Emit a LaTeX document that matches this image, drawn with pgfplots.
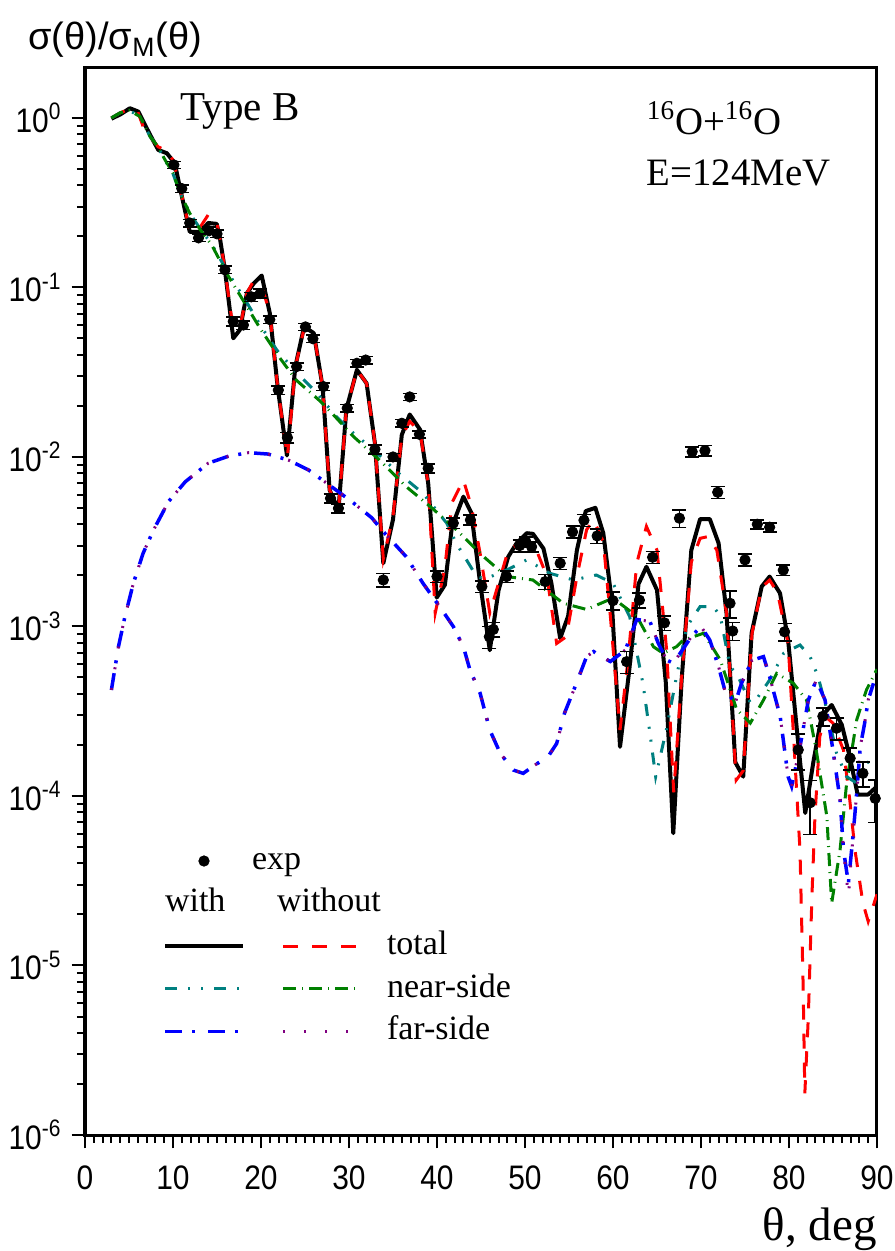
\documentclass[border=0pt]{standalone}
\usepackage{fontspec}
\setmainfont{Liberation Serif}
\newfontfamily\arialfont{Liberation Sans}
\newfontfamily\narrowfont[FakeStretch=0.88]{Liberation Sans}
\usepackage{pgfplots}
\usepackage{pgfplotstable}
\pgfplotsset{compat=1.18}
\definecolor{cteal}{RGB}{0,128,128}
\definecolor{cgreen}{RGB}{0,128,0}
\definecolor{cpurple}{RGB}{128,0,128}

\pgfplotstableread{
t s e
10.1 0.528 0.05
11.0 0.383 0.05
11.9 0.240 0.05
12.9 0.196 0.05
14.1 0.216 0.05
15.0 0.207 0.05
15.9 0.127 0.05
16.85 0.063 0.06
18.0 0.060 0.06
18.9 0.088 0.06
19.9 0.092 0.06
21.0 0.0646 0.05
21.97 0.0248 0.06
23.0 0.0130 0.07
24.05 0.0341 0.05
25.05 0.0585 0.05
25.9 0.0498 0.05
27.1 0.0260 0.05
27.9 0.0057 0.06
28.8 0.00498 0.06
29.8 0.0194 0.05
30.9 0.0357 0.05
31.9 0.0373 0.05
32.95 0.0111 0.06
33.9 0.00188 0.09
35.0 0.0100 0.05
36.0 0.0158 0.05
36.9 0.0226 0.05
38.0 0.0136 0.05
39.0 0.00857 0.06
40.0 0.00197 0.08
41.85 0.00407 0.07
43.8 0.00425 0.07
45.1 0.00172 0.08
45.95 0.00087 0.15
46.4 0.00096 0.10
47.9 0.00197 0.08
49.4 0.00300 0.08
50.1 0.00316 0.07
50.75 0.00295 0.07
52.3 0.00184 0.10
54.0 0.00236 0.08
55.4 0.00361 0.08
56.7 0.00423 0.08
58.2 0.00342 0.10
60.0 0.00142 0.12
61.55 0.00062 0.15
63.0 0.00143 0.10
64.5 0.00256 0.08
65.85 0.00105 0.10
67.55 0.00435 0.12
69.0 0.01074 0.07
70.45 0.01089 0.07
71.9 0.00619 0.08
73.3 0.00137 0.18
73.6 0.00094 0.12
75.0 0.00247 0.08
76.4 0.00401 0.06
77.8 0.00385 0.06
79.35 0.00215 0.07
79.5 0.00093 0.12
81.05 0.000187 0.24
82.4 0.0000912 0.35
83.85 0.000295 0.12
85.4 0.000251 0.15
86.95 0.000167 0.15
88.4 0.000136 0.17
89.8 0.0000968 0.28
}\expdata

\pgfplotstableread{
t s
3.0 0.989
4.0 1.047
5.1 1.140
6.06 1.089
7.4 0.794
8.33 0.647
9.3 0.619
10.2 0.541
10.8 0.385
11.9 0.213
13.1 0.213
14.0 0.240
14.97 0.237
15.3 0.200
15.9 0.127
16.85 0.0501
17.6 0.0562
18.4 0.0925
19.2 0.106
20.08 0.1175
21.0 0.0705
21.9 0.0257
22.95 0.0102
23.9 0.0341
24.9 0.0587
26.0 0.0537
27.0 0.0260
27.8 0.00638
28.8 0.00486
29.7 0.0191
30.9 0.0326
32.0 0.0272
32.95 0.0120
33.9 0.00236
35.0 0.00427
36.0 0.0135
36.9 0.0178
38.07 0.0145
39.0 0.00700
39.97 0.00148
40.9 0.00176
41.7 0.00389
43.0 0.00583
43.9 0.00468
44.9 0.00180
46.0 0.000724
47.0 0.00164
48.1 0.00258
49.05 0.00310
50.2 0.00355
50.9 0.00352
52.1 0.00288
53.0 0.00180
54.0 0.000851
54.9 0.00115
55.9 0.00282
56.9 0.00479
58.0 0.00501
58.9 0.00355
59.85 0.00143
60.8 0.000195
61.8 0.000525
62.9 0.00178
63.8 0.00225
65.0 0.00164
66.0 0.000468
66.85 0.0000603
67.8 0.000483
68.9 0.00282
69.9 0.00430
71.0 0.00430
72.0 0.00310
72.9 0.00120
73.9 0.000158
74.8 0.000130
75.75 0.000912
76.9 0.00172
77.8 0.00197
78.98 0.00157
79.9 0.000832
80.9 0.000245
81.85 0.0000794
82.8 0.000162
83.7 0.000295
84.85 0.000344
86.0 0.000263
86.9 0.000171
87.8 0.000102
89.0 0.000102
90.0 0.000114
}\withtotal

\pgfplotstableread{
t s
3.0 1.0
4.0 1.072
5.0 1.122
6.0 1.084
6.6 0.891
7.2 0.794
8.3 0.676
9.1 0.647
10.0 0.565
10.8 0.389
11.9 0.216
12.9 0.219
14.0 0.268
15.0 0.237
15.3 0.200
15.9 0.127
16.85 0.0562
17.6 0.0575
18.4 0.0925
19.1 0.108
20.1 0.101
21.0 0.0705
21.9 0.0257
23.0 0.0100
23.9 0.0339
24.9 0.0575
26.0 0.0537
27.0 0.0260
27.8 0.00638
28.8 0.00486
29.7 0.0191
30.9 0.0326
32.0 0.0272
32.95 0.0120
33.9 0.00251
35.0 0.00447
36.0 0.0132
36.9 0.0162
38.07 0.0141
39.0 0.00692
39.8 0.00120
40.9 0.00224
41.7 0.00537
43.0 0.00731
43.9 0.00513
44.9 0.00270
46.0 0.00120
47.0 0.00180
48.1 0.00282
49.4 0.00309
50.6 0.00295
51.3 0.00282
52.5 0.00197
53.6 0.000794
54.7 0.000871
55.9 0.00197
57.0 0.00372
57.8 0.00425
58.9 0.00316
59.7 0.00115
60.8 0.000245
61.7 0.000631
62.7 0.00236
63.8 0.00389
65.0 0.00282
66.1 0.000724
66.9 0.000105
67.8 0.000501
68.9 0.00240
69.9 0.00331
70.8 0.00339
71.8 0.00282
72.9 0.00120
74.0 0.000124
74.8 0.000141
75.8 0.000912
76.9 0.00170
77.8 0.00188
78.7 0.00158
79.9 0.000794
80.5 0.000234
81.25 0.0000479
81.6 0.00000794
81.8 0.00000176
82.2 0.00000501
82.6 0.0000251
82.95 0.0000759
83.5 0.000224
84.1 0.000295
85.0 0.000269
86.2 0.000186
86.9 0.0000955
87.5 0.0000479
88.4 0.0000234
89.0 0.0000182
90.0 0.0000263
}\withouttotal

\pgfplotstableread{
t s
3.0 1.0
4.0 1.072
5.0 1.109
6.25 1.019
7.4 0.776
8.3 0.676
9.1 0.562
10.0 0.468
10.8 0.363
11.9 0.275
13.1 0.221
14.4 0.180
16.1 0.126
18.4 0.0813
20.0 0.0589
21.8 0.0427
24.0 0.0316
26.3 0.0240
28.5 0.0174
30.5 0.0138
32.8 0.0110
35.5 0.00813
38.4 0.00611
41.1 0.00407
42.2 0.00309
43.5 0.00240
44.5 0.00197
45.5 0.00191
47.9 0.00215
50.2 0.00247
52.8 0.00206
55.5 0.00188
58.1 0.00201
60.0 0.00180
61.9 0.00114
63.4 0.000462
64.2 0.000234
64.85 0.000130
66.1 0.000251
67.2 0.000501
68.4 0.00100
69.9 0.00131
71.4 0.00131
72.2 0.00115
73.3 0.000579
74.05 0.000528
75.6 0.000355
76.3 0.000372
77.8 0.000483
79.4 0.000695
81.25 0.000778
82.4 0.000664
83.3 0.000506
84.3 0.000324
85.4 0.000179
86.55 0.000130
87.7 0.000119
88.8 0.000156
90.0 0.000171
}\withnear

\pgfplotstableread{
t s
3.0 1.0
4.0 1.072
5.0 1.109
6.25 1.019
7.4 0.776
8.3 0.676
9.1 0.565
10.0 0.472
10.8 0.360
11.9 0.274
13.1 0.219
14.4 0.178
16.1 0.121
18.4 0.0771
20.0 0.0562
22.2 0.0380
24.0 0.0284
26.7 0.0214
28.2 0.0178
30.5 0.0132
33.5 0.00955
36.5 0.00668
39.4 0.00501
42.2 0.00372
45.3 0.00258
47.9 0.00197
50.9 0.00188
54.35 0.00137
57.0 0.00126
60.0 0.00147
62.7 0.00115
64.6 0.000759
65.7 0.000695
67.2 0.000759
68.0 0.000832
70.3 0.000912
72.2 0.000634
74.05 0.000324
75.6 0.000269
77.1 0.000368
78.6 0.000528
80.5 0.000462
82.0 0.000368
83.1 0.000186
84.3 0.0000759
84.85 0.0000233
85.8 0.0000479
86.55 0.000119
87.7 0.000282
88.8 0.000422
90.0 0.000560
}\withoutnear

\pgfplotstableread{
t s
3.0 0.000422
3.8 0.000759
4.55 0.00115
5.5 0.00180
6.6 0.00270
7.8 0.00372
9.5 0.00546
11.4 0.00714
14.0 0.00918
16.3 0.0101
18.6 0.0106
20.8 0.0104
23.1 0.00959
25.4 0.00838
28.0 0.00668
30.3 0.00546
32.6 0.00437
33.7 0.00372
36.5 0.00258
38.4 0.00180
40.3 0.00131
41.85 0.00100
43.0 0.000759
43.75 0.000553
44.9 0.000404
46.0 0.000245
47.2 0.000178
48.7 0.000142
49.8 0.000136
51.1 0.000152
52.6 0.000170
53.6 0.000204
54.5 0.000309
55.7 0.000442
57.0 0.000664
57.8 0.000711
58.7 0.000664
59.7 0.000621
61.4 0.000726
62.7 0.00110
64.2 0.00107
65.15 0.000794
66.1 0.000634
66.85 0.000607
68.0 0.000741
68.9 0.000871
70.0 0.00100
71.0 0.000832
72.0 0.000579
72.7 0.000422
73.9 0.000355
74.6 0.000462
75.8 0.000631
77.1 0.000664
77.8 0.000506
79.0 0.000295
79.9 0.000130
80.3 0.000114
81.25 0.000195
82.2 0.000368
83.1 0.000483
84.1 0.000368
85.0 0.000186
85.8 0.0000955
86.2 0.0000479
86.75 0.0000305
87.3 0.0000603
87.7 0.000105
88.1 0.000195
88.6 0.000269
89.0 0.000368
89.6 0.000462
}\withfar

\pgfplotstableread{
t s
3.0 0.000422
3.8 0.000759
4.55 0.00115
5.5 0.00180
6.6 0.00270
7.8 0.00372
9.5 0.00546
11.4 0.00714
14.0 0.00918
16.3 0.0101
18.6 0.0106
20.8 0.0104
23.1 0.00959
25.4 0.00838
28.0 0.00668
30.3 0.00546
32.6 0.00437
33.7 0.00372
36.5 0.00258
38.4 0.00180
40.3 0.00131
41.85 0.00100
43.0 0.000759
43.75 0.000553
44.9 0.000404
46.0 0.000245
47.2 0.000178
48.7 0.000142
49.8 0.000136
51.1 0.000152
52.6 0.000170
53.6 0.000204
54.5 0.000309
55.7 0.000442
57.0 0.000664
57.8 0.000711
58.7 0.000664
59.7 0.000621
61.4 0.000726
62.7 0.00110
64.2 0.00107
65.15 0.000794
66.1 0.000634
66.85 0.000607
68.0 0.000741
68.9 0.000871
70.0 0.00100
71.0 0.000832
72.0 0.000579
72.7 0.000422
73.9 0.000355
74.6 0.000462
75.8 0.000631
77.1 0.000664
77.8 0.000506
79.0 0.000295
79.9 0.000130
80.3 0.000114
81.25 0.000195
82.2 0.000368
83.1 0.000483
84.1 0.000368
85.0 0.000186
85.8 0.0000955
86.2 0.0000479
86.75 0.0000257
87.3 0.0000603
87.7 0.000105
88.1 0.000195
88.6 0.000269
89.0 0.000368
89.6 0.000462
}\withoutfar

\begin{document}
\begin{tikzpicture}
\begin{axis}[
  scale only axis,
  width=396pt, height=533.5pt,
  xmin=0, xmax=90,
  ymode=log, ymin=1e-6, ymax=1.97,
  clip mode=individual,
  axis line style={line width=1.5pt},
  tick align=outside,
  xtick pos=bottom, ytick pos=left,
  tick style={line width=1pt, black},
  major tick length=6.75pt, minor tick length=4pt,
  xtick={0,10,...,90},
  xticklabels={0,10,20,30,40,50,60,70,80,90},
  minor x tick num=9,
  ytick={1e-6,1e-5,1e-4,1e-3,1e-2,1e-1,1},
  yticklabels={10\textsuperscript{-6},10\textsuperscript{-5},10\textsuperscript{-4},10\textsuperscript{-3},10\textsuperscript{-2},10\textsuperscript{-1},10\textsuperscript{0}},
  minor ytick={2e-6,3e-6,4e-6,5e-6,6e-6,7e-6,8e-6,9e-6,
               2e-5,3e-5,4e-5,5e-5,6e-5,7e-5,8e-5,9e-5,
               2e-4,3e-4,4e-4,5e-4,6e-4,7e-4,8e-4,9e-4,
               2e-3,3e-3,4e-3,5e-3,6e-3,7e-3,8e-3,9e-3,
               2e-2,3e-2,4e-2,5e-2,6e-2,7e-2,8e-2,9e-2,
               0.2,0.3,0.4,0.5,0.6,0.7,0.8,0.9},
  ticklabel style={font=\narrowfont\fontsize{17}{19}\selectfont},
  xticklabel shift=5pt,
  yticklabel shift=1.5pt,
  legend columns=2,
  legend cell align=left,
  legend style={draw=none, fill=none, inner sep=0pt, outer sep=0pt,
    at={(axis description cs:0.0985,0.2715)}, anchor=north west,
    font=\fontsize{17}{20}\selectfont,
    row sep=5.6pt,
    nodes={inner sep=0pt, text height=12pt, text depth=3.7pt}},
]
% legend entries (row 1)
\addlegendimage{legend image code/.code={\path[draw=none,fill=none] (0pt,0pt) -- (43.5pt,0pt); \fill[black] (19.5pt,0pt) circle (2.6pt);}}
\addlegendentry{\makebox[12pt][l]{exp}}
\addlegendimage{legend image code/.code={\path[draw=none,fill=none] (0pt,0pt) -- (52pt,0pt);}}
\addlegendentry{\makebox[0pt]{}}
% row 2
\addlegendimage{legend image code/.code={\path[draw=none,fill=none] (0pt,0pt) -- (43.5pt,0pt); \node[draw=none, anchor=west, inner sep=0pt, text height=12pt, text depth=3.7pt] at (0pt,0pt) {with};}}
\addlegendentry{\makebox[12pt]{}}
\addlegendimage{legend image code/.code={\path[draw=none,fill=none] (0pt,0pt) -- (52pt,0pt); \node[draw=none, anchor=west, inner sep=0pt, text height=12pt, text depth=3.7pt] at (-3.5pt,0pt) {\makebox[0pt][l]{without}};}}
\addlegendentry{\makebox[0pt]{}}
% row 3
\addlegendimage{legend image code/.code={\draw[black, line width=2pt, solid] (0pt,0pt) -- (39pt,0pt); \path[draw=none,fill=none] (0pt,0pt) -- (43.5pt,0pt);}}
\addlegendentry{\makebox[12pt]{}}
\addlegendimage{legend image code/.code={\draw[red, line width=1.5pt, dash pattern=on 7.5pt off 7pt] (0pt,0pt) -- (39pt,0pt); \path[draw=none,fill=none] (0pt,0pt) -- (52pt,0pt);}}
\addlegendentry{total}
% row 4
\addlegendimage{legend image code/.code={\draw[cteal, line width=1.5pt, dash pattern=on 6pt off 5.5pt on 1pt off 5.5pt on 1pt off 5.5pt] (0pt,0pt) -- (39pt,0pt); \path[draw=none,fill=none] (0pt,0pt) -- (43.5pt,0pt);}}
\addlegendentry{\makebox[12pt]{}}
\addlegendimage{legend image code/.code={\draw[cgreen, line width=1.5pt, dash pattern=on 6.5pt off 3pt on 0.5pt off 3pt] (0pt,0pt) -- (39pt,0pt); \path[draw=none,fill=none] (0pt,0pt) -- (52pt,0pt);}}
\addlegendentry{near-side}
% row 5
\addlegendimage{legend image code/.code={\draw[blue, line width=1.75pt, dash pattern=on 8.5pt off 5pt on 1.5pt off 6.5pt] (0pt,0pt) -- (37pt,0pt); \path[draw=none,fill=none] (0pt,0pt) -- (43.5pt,0pt);}}
\addlegendentry{\makebox[12pt]{}}
\addlegendimage{legend image code/.code={\draw[cpurple, line width=1.5pt, dash pattern=on 1pt off 9.5pt] (0pt,0pt) -- (36pt,0pt); \path[draw=none,fill=none] (0pt,0pt) -- (52pt,0pt);}}
\addlegendentry{far-side}

% curves
\addplot[forget plot, black, line width=2pt, line join=round] table[x=t,y=s] {\withtotal};
\addplot[forget plot, red, line width=1.5pt, dash pattern=on 7.5pt off 7pt] table[x=t,y=s] {\withouttotal};
\addplot[forget plot, cteal, line width=1.5pt, dash pattern=on 6pt off 5.5pt on 1pt off 5.5pt on 1pt off 5.5pt] table[x=t,y=s] {\withnear};
\addplot[forget plot, cgreen, line width=1.5pt, dash pattern=on 6.5pt off 3pt on 0.5pt off 3pt] table[x=t,y=s] {\withoutnear};
\addplot[forget plot, blue, line width=1.75pt, dash pattern=on 8.5pt off 5pt on 1.5pt off 6.5pt] table[x=t,y=s] {\withfar};
\addplot[forget plot, cpurple, line width=1.5pt, dash pattern=on 1pt off 9.5pt] table[x=t,y=s] {\withoutfar};
% experimental data
\addplot[forget plot, only marks, black, mark=*, mark size=2.6pt,
  error bars/.cd, y dir=both, y explicit relative,
  error bar style={line width=0.8pt},
  error mark options={rotate=90, line width=0.8pt, mark size=3.5pt}]
  table[x=t, y=s, y error=e] {\expdata};

% texts
\node[anchor=base west, inner sep=0pt, font=\arialfont\fontsize{19}{22}\selectfont] at (axis description cs:-0.072,1.0169) {σ(θ)/σ\textsubscript{M}(θ)};
\node[anchor=base west, inner sep=0pt, font=\fontsize{20.5}{24}\selectfont] at (axis description cs:0.120,0.951) {Type B};
\node[anchor=base west, inner sep=0pt, font=\fontsize{19.4}{23}\selectfont] at (axis description cs:0.709,0.9376) {\textsuperscript{16}O+\textsuperscript{16}O};
\node[anchor=base west, inner sep=0pt, font=\fontsize{19.4}{23}\selectfont] at (axis description cs:0.709,0.8903) {E=124MeV};
\node[anchor=base east, inner sep=0pt, font=\fontsize{23.5}{27}\selectfont] at (axis description cs:1.0,-0.0984) {θ, deg};
\end{axis}
\pgfresetboundingbox
\path[use as bounding box] ([shift={(-42.5pt,-58pt)}]current axis.south west) rectangle ([shift={(9pt,34pt)}]current axis.north east);
\end{tikzpicture}
\end{document}
